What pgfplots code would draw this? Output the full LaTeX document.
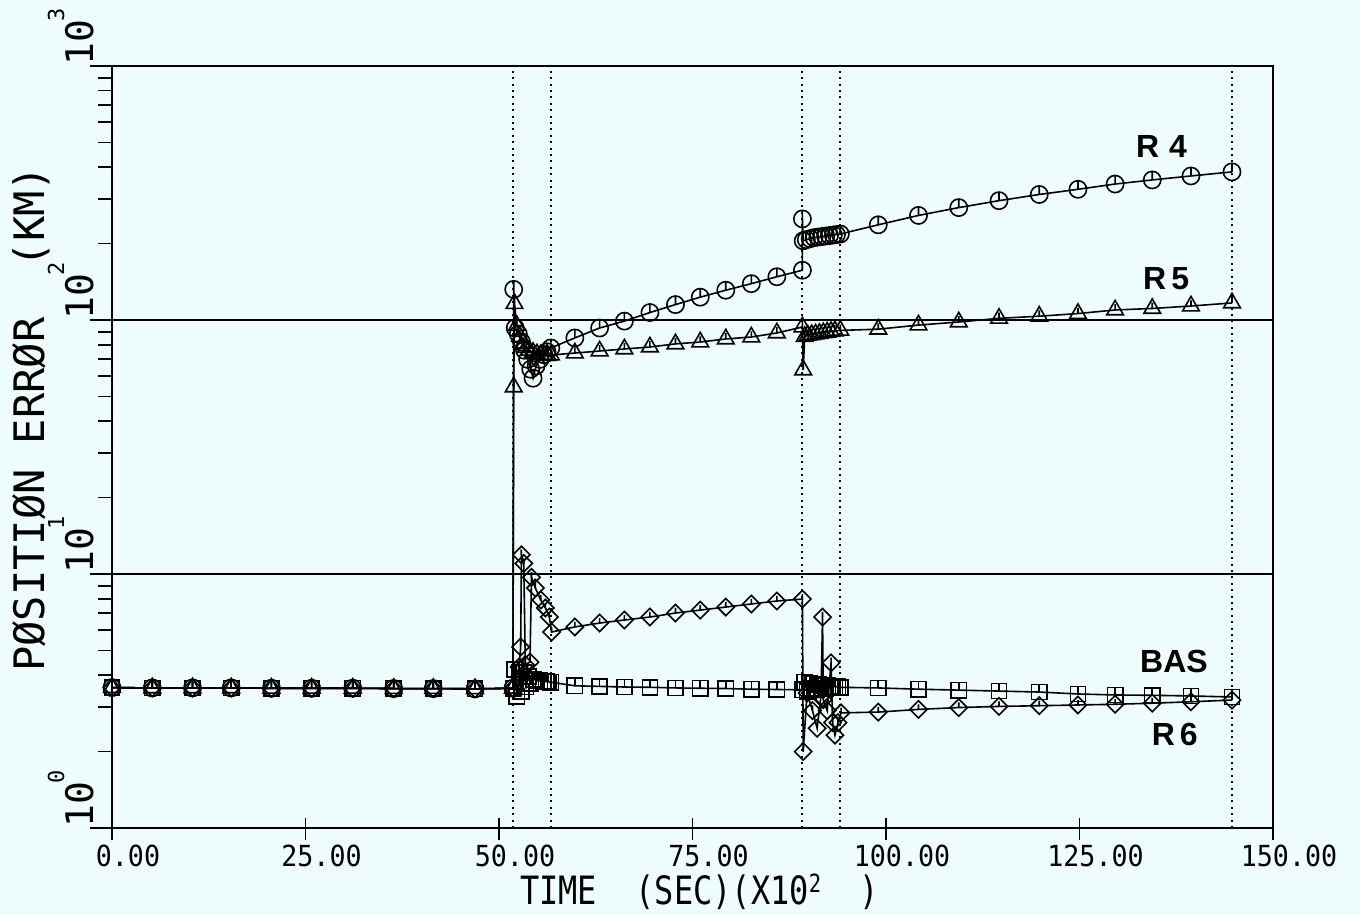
\documentclass[border=0pt]{standalone}
\usepackage{pgfplots}
\pgfplotsset{compat=1.18}
\usepackage{fontspec}
\setmainfont{DejaVu Sans Mono}
\newfontfamily\tickfont[FakeStretch=0.92]{DejaVu Sans Mono}
\newfontfamily\labfont[FakeStretch=0.82]{DejaVu Sans Mono}
\newfontfamily\ylabfont{DejaVu Sans Mono}
\newfontfamily\curvefont{Liberation Sans}
\definecolor{bg}{RGB}{238,252,252}

\pgfdeclareplotmark{mcirc}{%
  \pgfpathcircle{\pgfpointorigin}{\pgfplotmarksize}%
  \pgfpathmoveto{\pgfpointorigin}\pgfpathlineto{\pgfqpoint{0pt}{\pgfplotmarksize}}%
  \pgfusepathqstroke}
\pgfdeclareplotmark{mtri}{%
  \pgfpathmoveto{\pgfqpoint{0pt}{\pgfplotmarksize}}%
  \pgfpathlineto{\pgfqpointpolar{-30}{\pgfplotmarksize}}%
  \pgfpathlineto{\pgfqpointpolar{210}{\pgfplotmarksize}}%
  \pgfpathclose
  \pgfpathmoveto{\pgfpointorigin}\pgfpathlineto{\pgfqpoint{0pt}{0.6\pgfplotmarksize}}%
  \pgfusepathqstroke}
\pgfdeclareplotmark{msq}{%
  \pgfpathrectanglecorners{\pgfpoint{-\pgfplotmarksize}{-\pgfplotmarksize}}{\pgfpoint{\pgfplotmarksize}{\pgfplotmarksize}}%
  \pgfpathmoveto{\pgfpointorigin}\pgfpathlineto{\pgfqpoint{0pt}{\pgfplotmarksize}}%
  \pgfusepathqstroke}
\pgfdeclareplotmark{mdia}{%
  \pgfpathmoveto{\pgfqpoint{0pt}{\pgfplotmarksize}}%
  \pgfpathlineto{\pgfqpoint{\pgfplotmarksize}{0pt}}%
  \pgfpathlineto{\pgfpoint{0pt}{-\pgfplotmarksize}}%
  \pgfpathlineto{\pgfpoint{-\pgfplotmarksize}{0pt}}%
  \pgfpathclose
  \pgfpathmoveto{\pgfpointorigin}\pgfpathlineto{\pgfqpoint{0pt}{0.6\pgfplotmarksize}}%
  \pgfusepathqstroke}

\begin{document}
\begin{tikzpicture}
\path[use as bounding box, fill=bg] (-56pt,-43.5pt) rectangle (624pt,414pt);
\begin{axis}[
  scale only axis, width=580.5pt, height=381pt,
  at={(0,0)}, anchor=south west,
  ymode=log, xmin=0, xmax=150, ymin=1, ymax=1000,
  axis line style={line width=1pt},
  tick pos=left, tick align=outside,
  major tick length=11pt, minor tick length=7pt,
  every tick/.style={black, line width=0.9pt},
  xtick={0,25,50,75,100,125,150},
  xticklabels={0.00,25.00,50.00,75.00,100.00,125.00,150.00},
  xtick style={draw=none},
  ytick={1,10,100,1000},
  minor ytick={2,3,4,5,6,7,8,9,20,30,40,50,60,70,80,90,200,300,400,500,600,700,800,900},
  yticklabels={
    {10\kern-1pt\raisebox{14.5pt}{\fontsize{11}{11}\selectfont 0}},
    {10\kern-1pt\raisebox{14.5pt}{\fontsize{11}{11}\selectfont 1}},
    {10\kern-1pt\raisebox{14.5pt}{\fontsize{11}{11}\selectfont 2}},
    {10\kern-1pt\raisebox{14.5pt}{\fontsize{11}{11}\selectfont 3}}},
  xticklabel style={font=\tickfont\fontsize{14.5}{14.5}\selectfont, anchor=north, inner sep=0pt, yshift=2.5pt, xshift=8pt},
  yticklabel style={font=\ylabfont\fontsize{19}{19}\selectfont, rotate=90, anchor=south west, inner sep=0pt, yshift=-2pt},
  ymajorgrids, major grid style={black, line width=0.6pt, solid},
  xlabel={TIME\ \ (SEC)(X10\raisebox{6pt}{\fontsize{12.5}{12.5}\selectfont 2}\ \ )},
  xlabel style={font=\labfont\fontsize{19.5}{19.5}\selectfont, at={(axis description cs:0.506,-0.060)}, anchor=north, inner sep=0pt},
  ylabel={PØSITIØN ERRØR\ \ (KM)},
  ylabel style={font=\ylabfont\fontsize{21}{21}\selectfont, at={(axis description cs:-0.0698,0.537)}, anchor=center, inner sep=0pt},
  every axis plot/.append style={black, line width=0.8pt, mark options={solid, line width=0.8pt}},
  clip=false,
]
% x tick marks crossing the axis
\foreach \xv in {0,25,50,75,100,125,150}{
  \edef\tmp{\noexpand\draw[black, line width=0.9pt] ([yshift=-6pt]axis cs:\xv,1) -- ([yshift=5pt]axis cs:\xv,1);}\tmp
}
% vertical dotted event lines
\foreach \xv in {51.8,56.7,89.2,94.1,144.7}{
  \edef\tmp{\noexpand\draw[black, line width=1pt, dash pattern=on 1pt off 2.2pt] (axis cs:\xv,1) -- (axis cs:\xv,1000);}\tmp
}

% BAS
\addplot[mark=msq, mark size=3.8pt] coordinates {
(0,3.57)(5.2,3.56)(10.4,3.56)(15.4,3.56)(20.6,3.55)(25.8,3.55)(31.1,3.55)(36.4,3.54)(41.5,3.54)(46.9,3.53)
(51.8,3.55)(52.0,4.2)(52.3,3.3)(52.6,4.1)(52.9,3.45)(53.2,4.1)(53.5,3.6)(53.8,3.95)(54.1,3.7)(54.5,3.85)(54.9,3.8)(55.3,3.8)(55.7,3.78)(56.1,3.77)(56.4,3.76)(56.7,3.75)
(59.8,3.63)(63.0,3.61)(66.2,3.59)(69.5,3.58)(72.8,3.56)(76.0,3.55)(79.3,3.54)(82.6,3.52)(85.9,3.51)(89.2,3.50)
(89.5,3.75)(89.8,3.45)(90.1,3.72)(90.4,3.55)(90.7,3.68)(91.0,3.5)(91.3,3.66)(91.6,3.55)(91.9,3.63)(92.2,3.55)(92.5,3.63)(92.8,3.58)(93.1,3.62)(93.4,3.6)(93.8,3.6)(94.1,3.58)
(99.0,3.56)(104.2,3.52)(109.4,3.49)(114.6,3.46)(119.8,3.43)(124.8,3.37)(129.6,3.34)(134.4,3.33)(139.4,3.31)(144.7,3.28)
};

% R6
\addplot[mark=mdia, mark size=4.3pt] coordinates {
(0,3.57)(5.2,3.56)(10.4,3.56)(15.4,3.56)(20.6,3.55)(25.8,3.55)(31.1,3.55)(36.4,3.54)(41.5,3.54)(46.9,3.53)
(51.8,3.55)(52.6,4.3)(52.8,5.16)(52.9,11.9)(53.2,11.0)(53.4,4.4)(54.0,4.5)(54.2,9.7)(54.7,8.8)(55.4,7.9)(56.0,7.35)(56.5,6.77)(56.8,5.91)
(59.8,6.19)(63.0,6.41)(66.2,6.59)(69.5,6.77)(72.8,7.02)(76.0,7.21)(79.3,7.41)(82.6,7.62)(85.9,7.83)(89.2,7.97)
(89.3,2.0)(89.8,3.4)(90.5,2.9)(91.1,2.47)(91.6,3.3)(91.8,6.77)(91.9,3.2)(92.4,2.9)(92.9,4.47)(93.1,2.6)(93.4,2.32)(93.8,2.6)(94.2,2.84)
(99.0,2.86)(104.2,2.93)(109.4,2.98)(114.6,3.01)(119.8,3.03)(124.8,3.05)(129.6,3.07)(134.4,3.10)(139.4,3.14)(144.7,3.19)
};

% R5
\addplot[mark=mtri, mark size=4.8pt] coordinates {
(0,3.57)(5.2,3.56)(10.4,3.56)(15.4,3.56)(20.6,3.55)(25.8,3.55)(31.1,3.55)(36.4,3.54)(41.5,3.54)(46.9,3.53)
(51.8,3.55)(51.9,54.5)(52.0,116)(52.3,95)(52.7,86)(53.1,81)(53.5,78)(53.9,76)(54.4,74.5)(54.9,73.5)(55.4,73)(55.9,72.5)(56.3,72.4)(56.7,72.8)
(59.8,74.1)(63.0,75.5)(66.2,76.9)(69.5,78.3)(72.8,80.5)(76.0,81.9)(79.3,84.2)(82.6,85.7)(85.9,88.9)(89.2,93.8)
(89.3,63.6)(89.5,86)(89.9,87)(90.4,87.5)(90.9,88)(91.4,88.5)(91.9,89)(92.4,89.5)(92.9,90)(93.4,90.5)(94.1,91)
(99.0,92)(104.2,95.5)(109.4,98.2)(114.6,101.5)(119.8,103.5)(124.8,106)(129.6,109.5)(134.4,111)(139.4,113.5)(144.7,116.7)
};

% R4
\addplot[mark=mcirc, mark size=4.3pt] coordinates {
(0,3.57)(5.2,3.56)(10.4,3.56)(15.4,3.56)(20.6,3.55)(25.8,3.55)(31.1,3.55)(36.4,3.54)(41.5,3.54)(46.9,3.53)
(51.8,3.55)(51.9,132)(52.1,93)(52.5,88)(52.9,82)(53.3,76)(53.7,70)(54.1,64)(54.4,59)(54.8,66)(55.3,70)(55.8,73)(56.2,75)(56.7,77.6)
(59.8,85)(63.0,93)(66.2,99)(69.5,107)(72.8,115)(76.0,123)(79.3,131)(82.6,139)(85.9,148)(89.2,157)
(89.2,250)(89.3,205)(89.7,207)(90.2,209)(90.7,211)(91.2,212)(91.7,213)(92.2,214)(92.7,215)(93.2,216)(93.6,217)(94.1,218)
(99.0,237)(104.2,258)(109.4,277)(114.6,295)(119.8,312)(124.8,327)(129.6,343)(134.4,356)(139.4,369)(144.7,383)
};

\node[font=\curvefont\bfseries\fontsize{16}{16}\selectfont] at (axis cs:135.6,480) {R\hspace{5pt}4};
\node[font=\curvefont\bfseries\fontsize{16}{16}\selectfont] at (axis cs:136.2,145) {R\hspace{2.5pt}5};
\node[font=\curvefont\bfseries\fontsize{16}{16}\selectfont] at (axis cs:137.2,4.54) {BAS};
\node[font=\curvefont\bfseries\fontsize{16}{16}\selectfont] at (axis cs:137.3,2.34) {R\hspace{2.5pt}6};
\end{axis}
\end{tikzpicture}
\end{document}
